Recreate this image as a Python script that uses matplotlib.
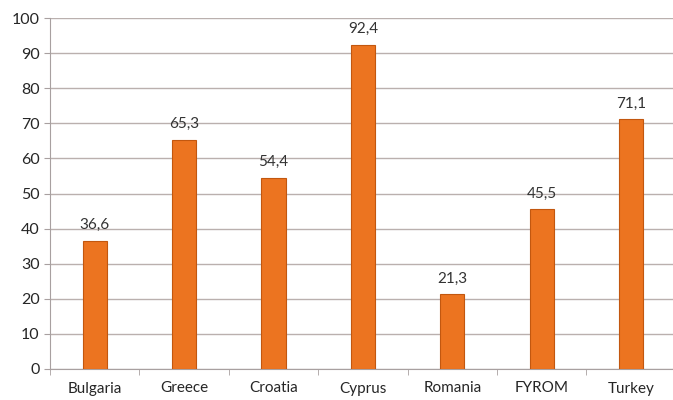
import matplotlib
matplotlib.use("Agg")
import matplotlib.pyplot as plt
import numpy as np

countries = ["Bulgaria", "Greece", "Croatia", "Cyprus", "Romania", "FYROM", "Turkey"]
values = [36.6, 65.3, 54.4, 92.4, 21.3, 45.5, 71.1]
labels = ["36,6", "65,3", "54,4", "92,4", "21,3", "45,5", "71,1"]
yticks = [0, 10, 20, 30, 40, 50, 60, 70, 80, 90, 100]

plt.rcParams['font.family'] = ['Lato', 'DejaVu Sans']

fig = plt.figure(figsize=(6.73, 4.0), dpi=100)
ax = fig.add_axes([0.0743, 0.0775, 0.93, 0.8775])

x = np.arange(len(countries))
bars = ax.bar(x, values, width=0.27, color="#ec7420", edgecolor="#c2570f", linewidth=0.8, zorder=3)

# étiquettes de valeurs au-dessus des barres
for xi, v, lab in zip(x, values, labels):
    ax.text(xi, v + 2.5, lab, ha="center", va="bottom", fontsize=11, color="#333333")

ax.set_xlim(-0.5, len(countries) - 0.5)
ax.set_ylim(0, 100)
ax.set_yticks(yticks)
ax.set_xticks(x)
ax.set_xticklabels(countries, fontsize=11, color="#262626")
ax.set_xticks(np.arange(-0.5, len(countries)), minor=True)
ax.tick_params(axis="x", which="major", length=0, pad=9)
ax.tick_params(axis="x", which="minor", length=4, color="#a8a0a0")
ax.tick_params(axis="y", length=4, color="#a8a0a0", labelsize=11.5, labelcolor="#262626")

ax.grid(axis="y", color="#bab0ae", linewidth=1.0, zorder=0)
for s in ["top", "right"]:
    ax.spines[s].set_visible(False)
ax.spines["left"].set_color("#a8a0a0")
ax.spines["bottom"].set_color("#a8a0a0")

fig.savefig("out.png", dpi=100)
